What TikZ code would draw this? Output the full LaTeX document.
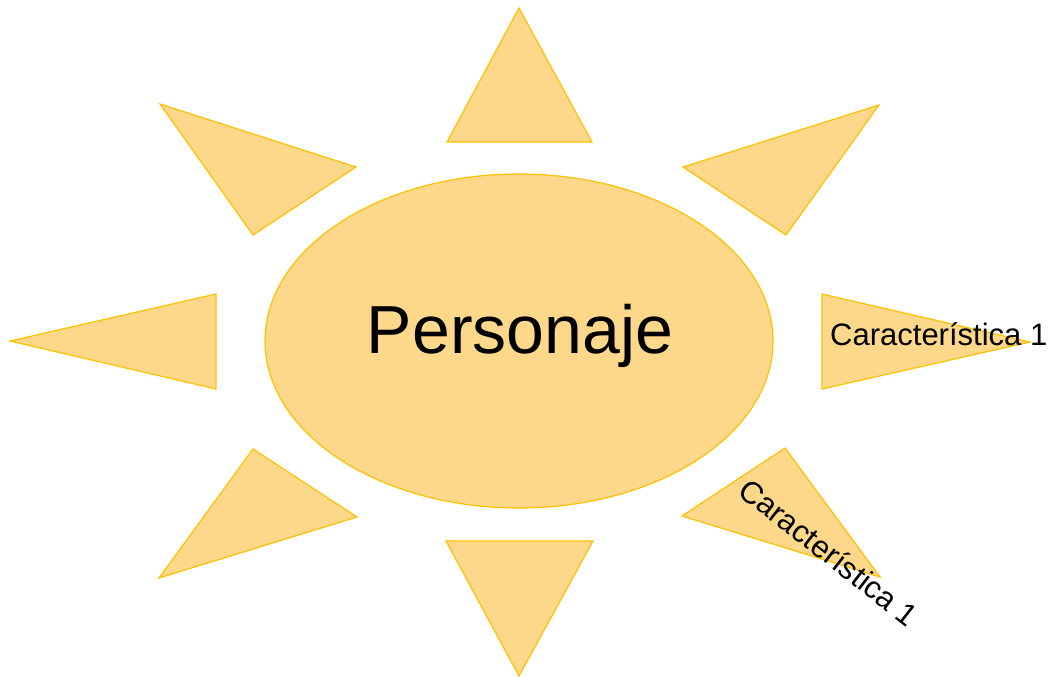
\documentclass[tikz,border=0pt]{standalone}
\usepackage{fontspec}
\setmainfont{Liberation Sans}
\definecolor{sunfill}{HTML}{FDD78A}
\definecolor{sunline}{HTML}{FFC000}
\begin{document}
\begin{tikzpicture}[x=1pt,y=-1pt,
  ray/.style={fill=sunfill,draw=sunline,line width=1.2pt,line join=miter},
  lbl/.style={inner sep=0pt,font=\fontsize{31}{31}\selectfont}]
\useasboundingbox (0,0) rectangle (1057,677);
% ellipse
\path[ray] (519,341) ellipse [x radius=254, y radius=167];
\node[inner sep=0pt,anchor=base,font=\fontsize{68}{68}\selectfont] (p) at (520,353) {Personaje};
% rays
\path[ray] (519,8) -- (592,142) -- (447,142) -- cycle;
\path[ray] (160,104) -- (356,167) -- (253,235) -- cycle;
\path[ray] (879,105) -- (683,167) -- (786,235) -- cycle;
\path[ray] (10,341) -- (216,294) -- (216,389) -- cycle;
\path[ray] (1030,342) -- (822,294) -- (822,389) -- cycle;
\path[ray] (785,448) -- (682,516) -- (880,577) -- cycle;
\path[ray] (253,449) -- (357,517) -- (159,578) -- cycle;
\path[ray] (446,541) -- (593,541) -- (519,676) -- cycle;
% labels
\node[lbl,anchor=base west] (c1) at (830,345) {Característica 1};
\node[lbl,anchor=center,rotate=-38] (c2) at (829,552) {Característica 1};
\end{tikzpicture}
\end{document}
